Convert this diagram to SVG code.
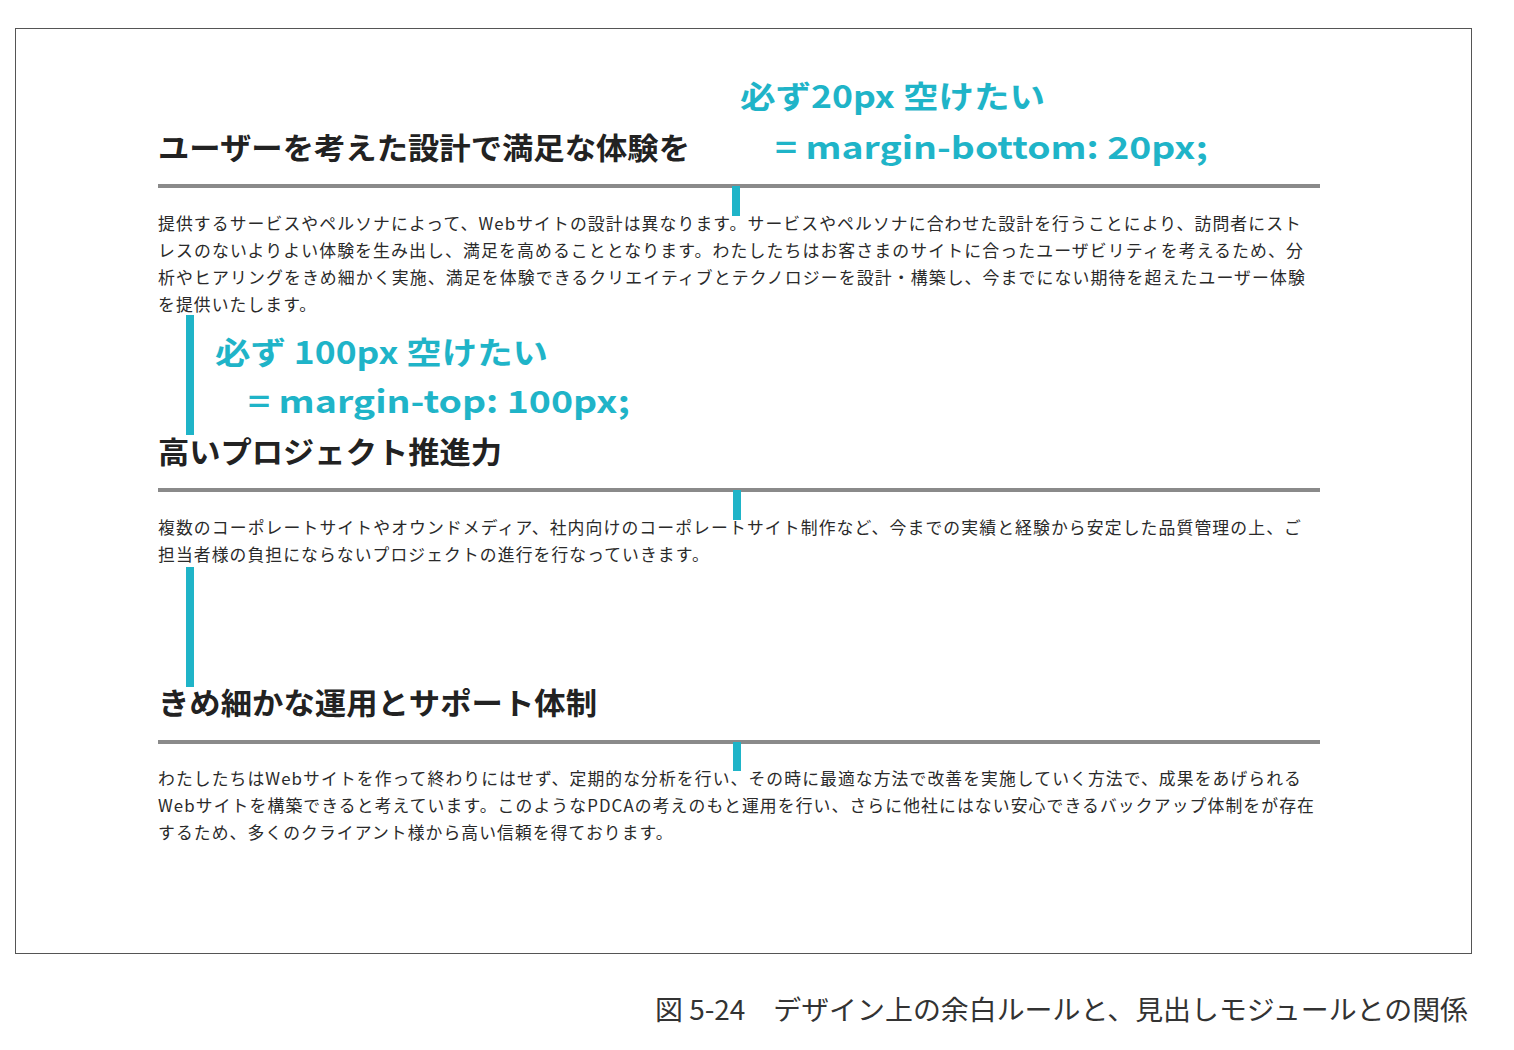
<svg xmlns="http://www.w3.org/2000/svg" width="1514" height="1050" viewBox="0 0 1514 1050">
<style>
.h{font-family:"Noto Sans CJK JP","Noto Sans",sans-serif;font-weight:700;font-size:30px;fill:#222}
.b{font-family:"Noto Sans CJK JP","Noto Sans",sans-serif;font-size:16.8px;fill:#2a2a2a;letter-spacing:1.1px}
.c{font-family:"Noto Sans CJK JP","Noto Sans",sans-serif;font-weight:700;font-size:31px;fill:#1fb4c8}
.rule{fill:#8a8a8a}
.bar{fill:#1fb4c8}
.cap{font-family:"Noto Sans CJK JP","Noto Sans",sans-serif;font-size:27px;fill:#333}
</style>
<rect x="0" y="0" width="1514" height="1050" fill="#fff"/>
<rect id="frame" x="15.5" y="28.5" width="1456" height="925" fill="none" stroke="#555" stroke-width="1"/>

<g id="section1">
<text class="h" x="158" y="159" textLength="532" lengthAdjust="spacingAndGlyphs">ユーザーを考えた設計で満足な体験を</text>
<rect class="rule" x="158" y="184" width="1162" height="4"/>
<text class="b" x="158" y="230" textLength="1144" lengthAdjust="spacingAndGlyphs">提供するサービスやペルソナによって、Webサイトの設計は異なります。サービスやペルソナに合わせた設計を行うことにより、訪問者にスト</text>
<text class="b" x="158" y="257" textLength="1146" lengthAdjust="spacingAndGlyphs">レスのないよりよい体験を生み出し、満足を高めることとなります。わたしたちはお客さまのサイトに合ったユーザビリティを考えるため、分</text>
<text class="b" x="158" y="284" textLength="1148" lengthAdjust="spacingAndGlyphs">析やヒアリングをきめ細かく実施、満足を体験できるクリエイティブとテクノロジーを設計・構築し、今までにない期待を超えたユーザー体験</text>
<text class="b" x="158" y="311">を提供いたします。</text>
</g>

<g id="section2">
<text class="h" x="158" y="463" textLength="344" lengthAdjust="spacingAndGlyphs">高いプロジェクト推進力</text>
<rect class="rule" x="158" y="488" width="1162" height="4"/>
<text class="b" x="158" y="534" textLength="1144" lengthAdjust="spacingAndGlyphs">複数のコーポレートサイトやオウンドメディア、社内向けのコーポレートサイト制作など、今までの実績と経験から安定した品質管理の上、ご</text>
<text class="b" x="158" y="561">担当者様の負担にならないプロジェクトの進行を行なっていきます。</text>
</g>

<g id="section3">
<text class="h" x="158" y="714" textLength="439" lengthAdjust="spacingAndGlyphs">きめ細かな運用とサポート体制</text>
<rect class="rule" x="158" y="740" width="1162" height="4"/>
<text class="b" x="158" y="785" textLength="1144" lengthAdjust="spacingAndGlyphs">わたしたちはWebサイトを作って終わりにはせず、定期的な分析を行い、その時に最適な方法で改善を実施していく方法で、成果をあげられる</text>
<text class="b" x="158" y="812" textLength="1157" lengthAdjust="spacingAndGlyphs">Webサイトを構築できると考えています。このようなPDCAの考えのもと運用を行い、さらに他社にはない安心できるバックアップ体制をが存在</text>
<text class="b" x="158" y="839">するため、多くのクライアント様から高い信頼を得ております。</text>
</g>

<g id="annotation-bottom">
<text class="c" x="740" y="108" textLength="305" lengthAdjust="spacingAndGlyphs">必ず20px 空けたい</text>
<text class="c" x="775" y="159" textLength="433" lengthAdjust="spacingAndGlyphs">= margin-bottom: 20px;</text>
</g>

<g id="annotation-top">
<text class="c" x="215" y="364" textLength="333" lengthAdjust="spacingAndGlyphs">必ず 100px 空けたい</text>
<text class="c" x="248" y="413" textLength="382" lengthAdjust="spacingAndGlyphs">= margin-top: 100px;</text>
</g>

<g id="connectors">
<rect class="bar" x="732" y="186" width="8" height="30"/>
<rect class="bar" x="733" y="490" width="8" height="30"/>
<rect class="bar" x="733" y="742" width="8" height="29"/>
<rect class="bar" x="186" y="315" width="8" height="120"/>
<rect class="bar" x="186" y="567" width="8" height="120"/>
</g>

<g id="caption">
<text class="cap" x="655" y="1020" textLength="813" lengthAdjust="spacingAndGlyphs">図 5-24　デザイン上の余白ルールと、見出しモジュールとの関係</text>
</g>
</svg>
